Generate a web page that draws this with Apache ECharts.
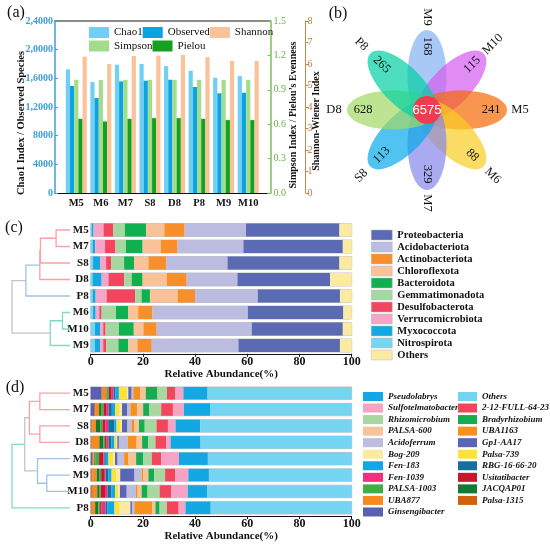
<!DOCTYPE html>
<html><head><meta charset="utf-8">
<script src="https://cdn.jsdelivr.net/npm/echarts@6/dist/echarts.min.js"></script>
<style>html,body{margin:0;padding:0;background:#fff}#c{width:550px;height:546px}</style>
</head><body><div id="c"></div>
<script>
const SERIF = "'Liberation Serif','Times New Roman',serif";

// ---------- (a) alpha diversity ----------
const alphaCats = ['M5','M6','M7','S8','D8','P8','M9','M10'];
const chao1    = [17250, 15480, 17900, 18000, 17700, 17060, 16080, 16320];
const observed = [14930, 13250, 15580, 15670, 15800, 14790, 13910, 13990];
const simpson  = [0.987, 0.986, 0.987, 0.987, 0.987, 0.987, 0.987, 0.987];
const pielou   = [0.647, 0.624, 0.647, 0.653, 0.653, 0.647, 0.636, 0.636];
const shannon  = [6.34, 6.00, 6.37, 6.40, 6.42, 6.31, 6.14, 6.14];
const leftTickLabels = ['0','4000','8000','1,2000','1,6000','2,0000','2,4000'];

// ---------- (b) Venn ----------
const vennSets   = ['M9','M10','M5','M6','M7','S8','D8','P8'];
const vennUnique = [168, 115, 241, 88, 329, 113, 628, 265];
const vennCore   = 6575;

// ---------- (c) phylum ----------
const phylumSamples = ['M5','M7','S8','D8','P8','M6','M10','M9'];
const nitrospirota      = [0.4, 0.7, 0.9, 0.7, 0.7, 0.9, 1.6, 1.6];
const myxococcota       = [0.7, 1.0, 2.7, 3.5, 1.2, 1.0, 2.0, 2.0];
const verrucomicrobiota = [3.8, 3.8, 2.3, 2.6, 4.2, 1.4, 1.2, 1.2];
const desulfobacterota  = [3.8, 4.0, 1.9, 6.0, 10.9, 0.9, 0.9, 1.1];
const gemmatimonadota   = [4.4, 4.0, 5.0, 2.9, 2.5, 5.5, 5.1, 4.7];
const bacteroidota      = [8.1, 6.4, 3.8, 4.2, 3.2, 4.7, 5.7, 3.8];
const chloroflexota     = [7.0, 7.0, 5.5, 9.2, 10.6, 3.8, 3.7, 3.5];
const actinobacteriota  = [7.8, 6.4, 6.8, 7.7, 6.7, 5.5, 5.1, 5.5];
const acidobacteriota   = [23.5, 25.2, 23.5, 19.4, 24.0, 36.5, 36.4, 33.2];
const proteobacteria    = [35.8, 38.1, 42.9, 35.5, 31.5, 36.6, 34.9, 38.9];
const phylumOthers      = [4.7, 3.4, 4.7, 8.3, 4.5, 3.2, 3.4, 4.5];
const phylumLegend = ['Proteobacteria','Acidobacteriota','Actinobacteriota','Chloroflexota','Bacteroidota','Gemmatimonadota','Desulfobacterota','Verrucomicrobiota','Myxococcota','Nitrospirota','Others'];

// ---------- (d) genus ----------
const genusSamples = ['M5','M7','S8','D8','M6','M9','M10','P8'];
const ginsengibacter    = [4.2, 1.3, 0.2, 0.1, 0.6, 0.2, 0.2, 0.1];
const palsa1315         = [0.4, 0.6, 0.5, 0.3, 0.4, 0.5, 0.6, 0.3];
const uba877            = [1.5, 1.3, 1.3, 2.9, 0.4, 1.6, 1.7, 1.3];
const jacqap01          = [0.4, 0.8, 1.6, 1.6, 0.3, 0.9, 0.7, 1.2];
const palsa1003         = [0.5, 0.9, 0.9, 0.6, 1.5, 0.8, 0.6, 0.7];
const usitatibacter     = [0.8, 1.0, 1.2, 0.6, 1.6, 1.1, 1.7, 0.6];
const fen1039           = [1.0, 0.9, 1.0, 0.7, 0.4, 0.6, 0.9, 1.5];
const rbg166620         = [0.6, 1.3, 2.3, 1.2, 0.6, 1.0, 1.6, 0.6];
const fen183            = [1.4, 1.3, 0.9, 1.1, 1.0, 1.3, 1.3, 2.8];
const palsa739          = [3.2, 1.7, 1.6, 0.9, 1.9, 1.9, 1.3, 2.0];
const bog209            = [0.4, 0.9, 0.5, 0.2, 0.6, 1.4, 0.6, 4.1];
const gp1aa17           = [1.3, 1.9, 2.1, 0.6, 1.0, 5.5, 2.6, 0.6];
const acidoferrum       = [0.6, 1.3, 1.5, 3.4, 2.5, 2.7, 3.5, 0.9];
const uba1163           = [2.6, 2.6, 1.0, 3.4, 1.7, 0.7, 0.7, 6.8];
const palsa600          = [2.2, 2.3, 1.9, 2.1, 2.9, 1.9, 1.5, 1.3];
const bradyrhizobium    = [4.5, 2.4, 2.2, 2.3, 2.8, 2.3, 2.3, 1.6];
const rhizomicrobium    = [3.6, 4.5, 4.5, 2.8, 3.2, 4.1, 4.6, 2.8];
const full6423          = [3.1, 4.5, 4.4, 4.1, 3.6, 3.8, 4.5, 4.5];
const sulfotelmatobacter= [3.2, 4.2, 2.9, 1.7, 6.8, 5.1, 6.3, 2.6];
const pseudolabrys      = [9.3, 10.0, 9.5, 11.5, 11.1, 7.9, 7.4, 9.7];
const genusOthers       = [55.2, 54.3, 58.0, 57.9, 55.1, 54.7, 55.4, 54.0];
const genusLegendCol1 = ['Pseudolabrys','Sulfotelmatobacter','Rhizomicrobium','PALSA-600','Acidoferrum','Bog-209','Fen-183','Fen-1039','PALSA-1003','UBA877','Ginsengibacter'];
const genusLegendCol2 = ['Others ','2-12-FULL-64-23','Bradyrhizobium','UBA1163','Gp1-AA17','Palsa-739','RBG-16-66-20','Usitatibacter','JACQAP01','Palsa-1315'];

// ---------- dendrograms: [childA, childB, height, colourIndex] ----------
const treeC = [[0,1,0.24,0],[8,2,0.51,0],[9,3,0.52,0],[10,4,0.76,1],[5,6,0.13,2],[12,7,0.34,2],[11,13,1.0,3]];
const treeD = [[0,1,0.52,0],[2,3,0.52,0],[8,9,0.70,0],[5,6,0.40,1],[4,11,0.56,1],[10,12,0.78,3],[13,7,1.0,2]];
const dendroColors = ['#f5a3a3','#9cc3ec','#7fdcc0','#c4c4c4'];

// ---------- styling / layout ----------
const phylumSeries = [
  ['Nitrospirota', nitrospirota, '#76d5f2'],
  ['Myxococcota', myxococcota, '#12a8e3'],
  ['Verrucomicrobiota', verrucomicrobiota, '#f6a4c8'],
  ['Desulfobacterota', desulfobacterota, '#f3455e'],
  ['Gemmatimonadota', gemmatimonadota, '#a5d7a0'],
  ['Bacteroidota', bacteroidota, '#10b050'],
  ['Chloroflexota', chloroflexota, '#f9c298'],
  ['Actinobacteriota', actinobacteriota, '#f88f2a'],
  ['Acidobacteriota', acidobacteriota, '#bcbbe0'],
  ['Proteobacteria', proteobacteria, '#5a6ab3'],
  ['Others', phylumOthers, '#faeaa2']
];
const genusSeries = [
  ['Ginsengibacter', ginsengibacter, '#5b5fb0'],
  ['Palsa-1315', palsa1315, '#d2600e'],
  ['UBA877', uba877, '#f7891e'],
  ['JACQAP01', jacqap01, '#117a35'],
  ['PALSA-1003', palsa1003, '#41ae45'],
  ['Usitatibacter', usitatibacter, '#c8162e'],
  ['Fen-1039', fen1039, '#ef2f7f'],
  ['RBG-16-66-20', rbg166620, '#16709e'],
  ['Fen-183', fen183, '#12a7e2'],
  ['Palsa-739', palsa739, '#fbe33c'],
  ['Bog-209', bog209, '#fbeaa0'],
  ['Gp1-AA17', gp1aa17, '#5a66b4'],
  ['Acidoferrum', acidoferrum, '#bdbde0'],
  ['UBA1163', uba1163, '#f7901f'],
  ['PALSA-600', palsa600, '#f9c399'],
  ['Bradyrhizobium', bradyrhizobium, '#16ad52'],
  ['Rhizomicrobium', rhizomicrobium, '#a7d8a0'],
  ['2-12-FULL-64-23', full6423, '#f2465c'],
  ['Sulfotelmatobacter', sulfotelmatobacter, '#f6a3c6'],
  ['Pseudolabrys', pseudolabrys, '#13a8e3'],
  ['Others ', genusOthers, '#74d4f1']
];
const V = {x: 427, y: 110, d: 34, a: 46, b: 19.5, rNum: 64, rName: 93, rCore: 14};
const vennAngles = [90, 45, 0, -45, -90, -135, 180, 135];
const petalColors = ['#83b0f1','#d45bf1','#f56905','#f8cd22','#8686ea','#05a9ea','#a2d862','#00d0a2'];

function normRot(deg){ let r = deg; while (r >= 90) r -= 180; while (r < -90) r += 180; return r; }
function dendroData(nLeaves, merges){
  const ys = [], hs = [];
  for (let i = 0; i < nLeaves; i++){ ys.push(i); hs.push(0); }
  return merges.map(m => {
    const item = [m[2], ys[m[0]], ys[m[1]], hs[m[0]], hs[m[1]], m[3]];
    ys.push((ys[m[0]] + ys[m[1]]) / 2); hs.push(m[2]);
    return item;
  });
}
function dendroRender(p, api){
  const h = api.value(0), yA = api.value(1), yB = api.value(2), hA = api.value(3), hB = api.value(4), c = api.value(5);
  return {type:'polyline', shape:{points:[api.coord([hA,yA]), api.coord([h,yA]), api.coord([h,yB]), api.coord([hB,yB])]},
    style:{stroke: dendroColors[c], lineWidth: 1.3, fill: 'none'}};
}
function txt(text, x, y, size, opts){
  return Object.assign({type:'text', x, y, rotation:(opts && opts.rot) || 0, silent:true,
    style:{text, font:((opts && opts.weight) || 'normal') + ' ' + size + 'px ' + SERIF, fill:'#111',
      textAlign:'center', textVerticalAlign:'middle', align:'center', verticalAlign:'middle'}});
}

const chart = echarts.init(document.getElementById('c'));
const axisFont = {fontFamily: SERIF, fontWeight:'bold', color:'#111'};
const hiddenAxis = {show:false};

const option = {
  backgroundColor:'#fff',
  animation:false,
  grid:[
    {left:64, top:21, width:196.5, height:172},
    {left:55, top:21, width:215, height:172},
    {left:12, top:221.75, width:58, height:132},
    {left:90.7, top:221.75, width:261, height:132},
    {left:12, top:385, width:58, height:131},
    {left:90.7, top:385, width:261, height:131}
  ],
  xAxis:[
    {gridIndex:0, type:'category', data:alphaCats, axisLine:{show:false}, axisTick:{show:false},
      axisLabel:Object.assign({fontSize:10.5, margin:5, interval:0}, axisFont)},
    {gridIndex:1, type:'value', min:0, max:1, axisLine:{show:true, lineStyle:{color:'#111', width:1}}, axisTick:{show:false}, axisLabel:{show:false}, splitLine:{show:false}},
    {gridIndex:1, type:'value', position:'top', min:0, max:1, axisLine:{show:true, lineStyle:{color:'#8a8a8a', width:2}}, axisTick:{show:false}, axisLabel:{show:false}, splitLine:{show:false}},
    Object.assign({gridIndex:2, type:'value', min:0, max:1, inverse:true}, hiddenAxis),
    {gridIndex:3, type:'value', min:0, max:100, interval:20, splitLine:{show:false},
      axisLine:{show:true, lineStyle:{color:'#111'}}, axisTick:{show:true, length:3, lineStyle:{color:'#111'}},
      axisLabel:Object.assign({fontSize:12, margin:2}, axisFont),
      name:'Relative Abundance(%)', nameLocation:'middle', nameGap:12,
      nameTextStyle:Object.assign({fontSize:11, verticalAlign:'top'}, axisFont)},
    Object.assign({gridIndex:4, type:'value', min:0, max:1, inverse:true}, hiddenAxis),
    {gridIndex:5, type:'value', min:0, max:100, interval:20, splitLine:{show:false},
      axisLine:{show:true, lineStyle:{color:'#111'}}, axisTick:{show:true, length:3, lineStyle:{color:'#111'}},
      axisLabel:Object.assign({fontSize:12, margin:2}, axisFont),
      name:'Relative Abundance(%)', nameLocation:'middle', nameGap:15,
      nameTextStyle:Object.assign({fontSize:11, verticalAlign:'top'}, axisFont)}
  ],
  yAxis:[
    {gridIndex:0, type:'value', position:'left', offset:9, min:0, max:24000, interval:4000, splitLine:{show:false},
      axisLine:{show:true, lineStyle:{color:'#3f9fd6', width:1.5}}, axisTick:{show:true, inside:true, length:3, lineStyle:{color:'#3f9fd6'}},
      axisLabel:{fontFamily:SERIF, fontWeight:'bold', fontSize:10, color:'#3f9fd6', margin:2, formatter:(v,i)=>leftTickLabels[i]}},
    {gridIndex:0, type:'value', position:'right', offset:10, min:0, max:1.5, interval:0.3, splitLine:{show:false},
      axisLine:{show:true, lineStyle:{color:'#7cbf5a', width:1.5}}, axisTick:{show:true, inside:true, length:3, lineStyle:{color:'#7cbf5a'}},
      axisLabel:{fontFamily:SERIF, fontSize:10, color:'#6aae48', margin:3, formatter:v=>v.toFixed(1)}},
    {gridIndex:0, type:'value', position:'right', offset:45, min:0, max:8, interval:1, splitLine:{show:false},
      axisLine:{show:true, lineStyle:{color:'#c8884a', width:1}}, axisTick:{show:true, length:3, lineStyle:{color:'#c8884a'}},
      axisLabel:{fontFamily:SERIF, fontSize:10, color:'#c07a3a', margin:2}},
    Object.assign({gridIndex:1, type:'value'}, hiddenAxis),
    Object.assign({gridIndex:2, type:'value', min:-0.5, max:7.5, inverse:true}, hiddenAxis),
    {gridIndex:3, type:'category', data:phylumSamples, inverse:true, axisLine:{show:false}, axisTick:{show:false},
      axisLabel:Object.assign({fontSize:11, margin:2}, axisFont)},
    Object.assign({gridIndex:4, type:'value', min:-0.5, max:7.5, inverse:true}, hiddenAxis),
    {gridIndex:5, type:'category', data:genusSamples, inverse:true, axisLine:{show:false}, axisTick:{show:false},
      axisLabel:Object.assign({fontSize:11, margin:2}, axisFont)}
  ],
  legend:[
    {data:['Chao1','Observed','Shannon'], left:84, top:22, orient:'horizontal', itemGap:0, itemWidth:20, itemHeight:11, icon:'rect', selectedMode:false,
      textStyle:{fontFamily:SERIF, fontSize:11, color:'#111', width:35, overflow:'none'}},
    {data:['Simpson','Pielou'], left:84, top:35.5, orient:'horizontal', itemGap:0, itemWidth:20, itemHeight:11, icon:'rect', selectedMode:false,
      textStyle:{fontFamily:SERIF, fontSize:11, color:'#111', width:35, overflow:'none'}},
    {data:phylumLegend, left:366, top:224, orient:'vertical', itemGap:0, itemWidth:21, itemHeight:10, icon:'rect', selectedMode:false,
      itemStyle:{borderColor:'#bbb', borderWidth:0.5},
      textStyle:{fontFamily:SERIF, fontWeight:'bold', fontSize:10.5, color:'#111', lineHeight:12}},
    {data:genusLegendCol1, left:358, top:385.7, orient:'vertical', itemGap:0, itemWidth:20, itemHeight:9, icon:'rect', selectedMode:false,
      textStyle:{fontFamily:SERIF, fontWeight:'bold', fontStyle:'italic', fontSize:9, color:'#111', lineHeight:11.55}},
    {data:genusLegendCol2, left:453, top:385.7, orient:'vertical', itemGap:0, itemWidth:19, itemHeight:9, icon:'rect', selectedMode:false,
      textStyle:{fontFamily:SERIF, fontWeight:'bold', fontStyle:'italic', fontSize:9, color:'#111', lineHeight:11.55}}
  ],
  graphic:[
    txt('(a)', 16, 13, 16),
    txt('(b)', 338, 14, 16),
    txt('(c)', 14, 228, 16),
    txt('(d)', 15, 388, 16),
    txt('Chao1 Index / Observed Species', 21, 123, 10.5, {weight:'bold', rot:Math.PI/2}),
    txt('Simpson Index / Pielou\u2019s Evenness', 293, 115, 10, {weight:'bold', rot:Math.PI/2}),
    txt('Shannon-Wiener Index', 316, 121, 10, {weight:'bold', rot:Math.PI/2})
  ],
  series:[]
};

// (a) bars
const alphaDefs = [['Chao1', chao1, 0, '#6fd0f4'], ['Observed', observed, 0, '#0ba3e1'], ['Simpson', simpson, 1, '#a3dc8b'], ['Pielou', pielou, 1, '#15a11f'], ['Shannon', shannon, 2, '#f9c298']];
alphaDefs.forEach(d => option.series.push({type:'bar', name:d[0], data:d[1], xAxisIndex:0, yAxisIndex:d[2], barWidth:4.2, barGap:'0%', itemStyle:{color:d[3]}}));

// (b) venn
option.series.push({type:'custom', coordinateSystem:'none', silent:true, data:vennUnique.map((v,i)=>[i,v]),
  renderItem:(p, api)=>{ const i = p.dataIndex; const ang = vennAngles[i] * Math.PI / 180;
    return {type:'ellipse', x: V.x + Math.cos(ang) * V.d, y: V.y - Math.sin(ang) * V.d, rotation: ang,
      shape:{cx:0, cy:0, rx:V.a, ry:V.b}, style:{fill: petalColors[i], opacity:0.7}}; }});
option.series.push({type:'custom', coordinateSystem:'none', silent:true, data:vennUnique.map((v,i)=>[i,v]),
  renderItem:(p, api)=>{ const i = p.dataIndex; const deg = vennAngles[i]; const ang = deg * Math.PI / 180; const rot = normRot(deg) * Math.PI / 180;
    return {type:'group', children:[
      txt(String(api.value(1)), V.x + Math.cos(ang) * V.rNum, V.y - Math.sin(ang) * V.rNum, 12.5, {rot}),
      txt(vennSets[i], V.x + Math.cos(ang) * V.rName, V.y - Math.sin(ang) * V.rName, 12.5, {rot})
    ]}; }});
option.series.push({type:'custom', coordinateSystem:'none', silent:true, data:[[vennCore]],
  renderItem:(p, api)=>({type:'group', children:[
    {type:'circle', shape:{cx:V.x, cy:V.y, r:V.rCore}, style:{fill:'#f03c50'}},
    {type:'text', x:V.x, y:V.y, style:{text:String(api.value(0)), font:'13px "Liberation Sans", Arial, sans-serif', fill:'#fff', textAlign:'center', textVerticalAlign:'middle', align:'center', verticalAlign:'middle'}}
  ]})});

// dendrograms
option.series.push({type:'custom', xAxisIndex:3, yAxisIndex:4, silent:true, clip:false, data:dendroData(8, treeC), encode:{x:[0,3,4], y:[1,2]}, renderItem:dendroRender});
option.series.push({type:'custom', xAxisIndex:5, yAxisIndex:6, silent:true, clip:false, data:dendroData(8, treeD), encode:{x:[0,3,4], y:[1,2]}, renderItem:dendroRender});

// (c) stacked bars
phylumSeries.forEach((d, k) => option.series.push({type:'bar', name:d[0], data:d[1], stack:'phylum', xAxisIndex:4, yAxisIndex:5, barWidth:13,
  itemStyle:{color:d[2]}, showBackground:k===0, backgroundStyle:{color:'rgba(0,0,0,0)', borderColor:'#c4c4c4', borderWidth:1}}));
// (d) stacked bars
genusSeries.forEach((d, k) => option.series.push({type:'bar', name:d[0], data:d[1], stack:'genus', xAxisIndex:6, yAxisIndex:7, barWidth:12.5,
  itemStyle:{color:d[2]}, showBackground:k===0, backgroundStyle:{color:'rgba(0,0,0,0)', borderColor:'#c4c4c4', borderWidth:1}}));

chart.setOption(option);
</script>
</body></html>
